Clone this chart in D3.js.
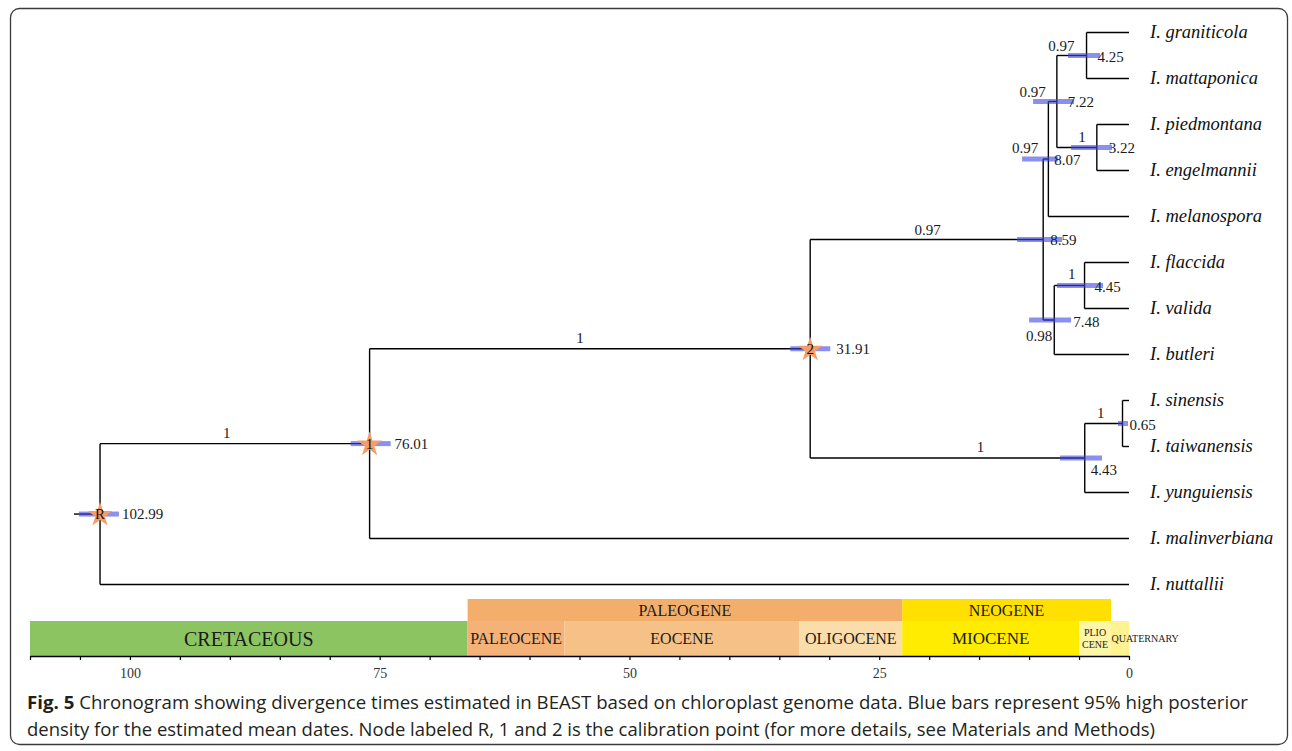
<!DOCTYPE html>
<html><head><meta charset="utf-8">
<script src="https://cdn.jsdelivr.net/npm/d3@7"></script>
<style>
  html,body{margin:0;padding:0;background:#fff}
  svg{display:block}
</style>
</head><body>
<svg id="chart" width="1292" height="751"></svg>
<script>
// ---- data ----------------------------------------------------------------
// Tips, top to bottom
const taxa = [
  "I. graniticola", "I. mattaponica", "I. piedmontana", "I. engelmannii",
  "I. melanospora", "I. flaccida", "I. valida", "I. butleri",
  "I. sinensis", "I. taiwanensis", "I. yunguiensis",
  "I. malinverbiana", "I. nuttallii"
];

// Internal nodes: children, mean age (Ma) and posterior support
const nodes = [
  { id: "n425", kids: ["I. graniticola", "I. mattaponica"], age: 4.25, support: "0.97" },
  { id: "n322", kids: ["I. piedmontana", "I. engelmannii"], age: 3.22, support: "1" },
  { id: "n722", kids: ["n425", "n322"], age: 7.22, support: "0.97" },
  { id: "n807", kids: ["n722", "I. melanospora"], age: 8.07, support: "0.97" },
  { id: "n445", kids: ["I. flaccida", "I. valida"], age: 4.45, support: "1" },
  { id: "n748", kids: ["n445", "I. butleri"], age: 7.48, support: "0.98" },
  { id: "n859", kids: ["n807", "n748"], age: 8.59, support: "0.97" },
  { id: "n065", kids: ["I. sinensis", "I. taiwanensis"], age: 0.65, support: "1" },
  { id: "n443", kids: ["n065", "I. yunguiensis"], age: 4.43, support: "1" },
  { id: "N2",   kids: ["n859", "n443"], age: 31.91, support: "1" },
  { id: "N1",   kids: ["N2", "I. malinverbiana"], age: 76.01, support: "1" },
  { id: "R",    kids: ["N1", "I. nuttallii"], age: 102.99, support: null }
];

// 95% HPD intervals (Ma), older bound first
const hpd = {
  n425: [6.1, 2.9], n322: [5.8, 1.7], n722: [9.6, 5.5], n807: [10.7, 7.1],
  n445: [7.2, 2.6], n748: [10.0, 5.8], n859: [11.2, 6.7], n065: [1.1, 0.1],
  n443: [6.9, 2.7], N2: [33.9, 29.9], N1: [77.9, 73.9], R: [105.1, 101.1]
};

// Calibrated nodes and their marks
const calibrations = { R: "R", N1: "1", N2: "2" };
const rootStemAge = 105.6;

// Geological time scale (Ma)
const epochs = [
  { name: "CRETACEOUS", from: 110, to: 66.2 },
  { name: "PALEOCENE",  from: 66.2, to: 56.5 },
  { name: "EOCENE",     from: 56.5, to: 33.0 },
  { name: "OLIGOCENE",  from: 33.0, to: 22.7 },
  { name: "MIOCENE",    from: 22.7, to: 5.0 },
  { name: "PLIO|CENE",  from: 5.0,  to: 1.8 },
  { name: "QUATERNARY", from: 1.8,  to: 0 }
];
const periods = [
  { name: "PALEOGENE", from: 66.2, to: 22.7 },
  { name: "NEOGENE",   from: 22.7, to: 1.8 }
];
const tickValues = d3.range(0, 111, 5);
const tickLabels = [0, 25, 50, 75, 100];

const captionLines = [
  ["Fig. 5", " Chronogram showing divergence times estimated in BEAST based on chloroplast genome data. Blue bars represent 95% high posterior"],
  ["", "density for the estimated mean dates. Node labeled R, 1 and 2 is the calibration point (for more details, see Materials and Methods)"]
];

// ---- styles --------------------------------------------------------------
const serif = "'Liberation Serif','Times New Roman',serif";
const epochFill = {
  CRETACEOUS: "#8dc462", PALEOCENE: "#f4b279", EOCENE: "#f6c186",
  OLIGOCENE: "#fbdcab", MIOCENE: "#ffec00", "PLIO|CENE": "#fff5a6", QUATERNARY: "#fff290"
};
const periodFill = { PALEOGENE: "#f4ae6c", NEOGENE: "#ffe000" };
const epochFont = { CRETACEOUS: 20, PALEOCENE: 16, EOCENE: 16, OLIGOCENE: 16, MIOCENE: 17, "PLIO|CENE": 10, QUATERNARY: 10 };

// label offsets for age and support text around each node
const ageNudge = {
  n425: [11, 1], n322: [12, 0], n722: [11, 0], n807: [6, 1], n445: [10, 1],
  n748: [19, 2], n859: [7, 0], n065: [7, 1], n443: [6, 12],
  N2: [26, 0], N1: [25, 0], R: [22, 0]
};
// [reference, dx, dy, anchor]; reference "node" = node x, "mid" = middle of stem branch
const supportPos = {
  n425: ["node", -12, -10, "end"], n722: ["node", -11, -10, "end"],
  n322: ["node", -11, -11, "end"], n807: ["node", -10, -11, "end"],
  n859: ["mid", 1, -10, "middle"], n445: ["node", -9, -12, "end"],
  n748: ["node", -2, 16, "end"], n065: ["node", -18, -11, "end"],
  n443: ["mid", 33, -11, "middle"], N2: ["mid", -10, -11, "middle"],
  N1: ["mid", -8, -11, "middle"]
};

// ---- scales --------------------------------------------------------------
const svg = d3.select("#chart");
const x = d3.scaleLinear().domain([110, 0]).range([30, 1129]);
const yTip = d3.scaleLinear().domain([0, taxa.length - 1]).range([32.5, 584.5]);

// frame
svg.append("rect")
  .attr("x", 10.5).attr("y", 8.5).attr("width", 1277).attr("height", 736)
  .attr("rx", 9).attr("fill", "none").attr("stroke", "#3a3a3a").attr("stroke-width", 1.3);

// ---- tree layout ---------------------------------------------------------
const byId = new Map(nodes.map(n => [n.id, n]));
const parentOf = new Map();
nodes.forEach(n => n.kids.forEach(k => parentOf.set(k, n.id)));
const pos = new Map();
taxa.forEach((t, i) => pos.set(t, { x: x(0), y: yTip(i) }));
function place(id) {
  if (pos.has(id)) return pos.get(id);
  const n = byId.get(id);
  const ys = n.kids.map(k => place(k).y);
  const p = { x: x(n.age), y: d3.mean(ys), ys };
  pos.set(id, p);
  return p;
}
place("R");

const gTree = svg.append("g").attr("stroke", "#000").attr("stroke-width", 1.4).attr("fill", "none");
// horizontal branches
const allIds = taxa.concat(nodes.map(n => n.id));
allIds.forEach(id => {
  const p = pos.get(id);
  const par = parentOf.get(id);
  const x0 = par ? pos.get(par).x : x(rootStemAge);
  gTree.append("line").attr("x1", x0).attr("x2", p.x).attr("y1", p.y).attr("y2", p.y);
});
// vertical connectors
nodes.forEach(n => {
  const p = pos.get(n.id);
  gTree.append("line").attr("x1", p.x).attr("x2", p.x)
    .attr("y1", d3.min(p.ys)).attr("y2", d3.max(p.ys));
});

// HPD bars
svg.append("g").selectAll("rect").data(nodes).join("rect")
  .attr("x", d => x(hpd[d.id][0]))
  .attr("width", d => x(hpd[d.id][1]) - x(hpd[d.id][0]))
  .attr("y", d => pos.get(d.id).y - 2.5)
  .attr("height", 5)
  .attr("fill", "rgb(62,70,228)").attr("fill-opacity", 0.6);

// calibration stars
const calNodes = nodes.filter(n => calibrations[n.id]);
const gCal = svg.append("g");
gCal.selectAll("path").data(calNodes).join("path")
  .attr("d", d3.symbol(d3.symbolStar, 190)())
  .attr("transform", d => `translate(${pos.get(d.id).x},${pos.get(d.id).y + 1})`)
  .attr("fill", "#f89c66");
gCal.selectAll("text").data(calNodes).join("text")
  .attr("x", d => pos.get(d.id).x).attr("y", d => pos.get(d.id).y)
  .attr("dy", "0.35em").attr("text-anchor", "middle")
  .attr("font-family", serif).attr("font-size", 15).attr("fill", "#111")
  .text(d => calibrations[d.id]);

// age labels
svg.append("g").selectAll("text").data(nodes).join("text")
  .attr("x", d => pos.get(d.id).x + ageNudge[d.id][0])
  .attr("y", d => pos.get(d.id).y + ageNudge[d.id][1])
  .attr("dy", "0.35em")
  .attr("font-family", serif).attr("font-size", 15).attr("fill", "#1a1a1a")
  .text(d => d.age.toFixed(2));

// support labels
svg.append("g").selectAll("text").data(nodes.filter(n => n.support)).join("text")
  .each(function (d) {
    const [ref, dx, dy, anchor] = supportPos[d.id];
    const p = pos.get(d.id);
    const par = pos.get(parentOf.get(d.id));
    const bx = ref === "mid" ? (par.x + p.x) / 2 : p.x;
    d3.select(this).attr("x", bx + dx).attr("y", p.y + dy).attr("text-anchor", anchor);
  })
  .attr("dy", "0.35em")
  .attr("font-family", serif).attr("font-size", 15).attr("fill", "#1a1a1a")
  .text(d => d.support);

// tip labels
svg.append("g").selectAll("text").data(taxa).join("text")
  .attr("x", 1150).attr("y", d => pos.get(d).y)
  .attr("dy", "0.3em")
  .attr("font-family", serif).attr("font-style", "italic").attr("font-size", 18.5)
  .attr("fill", "#111")
  .text(d => d);

// ---- geological time scale ----------------------------------------------
const rowTop = 599, rowMid = 621, rowBot = 656;
const gGeo = svg.append("g");
gGeo.selectAll("rect.period").data(periods).join("rect").attr("class", "period")
  .attr("x", d => x(d.from)).attr("width", d => x(d.to) - x(d.from))
  .attr("y", rowTop).attr("height", rowMid - rowTop)
  .attr("fill", d => periodFill[d.name]);
gGeo.selectAll("text.period").data(periods).join("text").attr("class", "period")
  .attr("x", d => (x(d.from) + x(d.to)) / 2).attr("y", (rowTop + rowMid) / 2)
  .attr("dy", "0.35em").attr("text-anchor", "middle")
  .attr("font-family", serif).attr("font-size", 16).attr("fill", "#1a1a1a")
  .text(d => d.name);
gGeo.selectAll("rect.epoch").data(epochs).join("rect").attr("class", "epoch")
  .attr("x", d => x(d.from)).attr("width", d => x(d.to) - x(d.from))
  .attr("y", rowMid).attr("height", rowBot - rowMid)
  .attr("fill", d => epochFill[d.name]);
gGeo.selectAll("text.epoch").data(epochs).join("text").attr("class", "epoch")
  .attr("font-family", serif).attr("fill", "#1a1a1a")
  .attr("font-size", d => epochFont[d.name])
  .each(function (d) {
    const t = d3.select(this);
    const cx = (x(d.from) + x(d.to)) / 2, cy = (rowMid + rowBot) / 2;
    const parts = d.name.split("|");
    if (d.name === "QUATERNARY") {
      t.attr("x", x(d.from) + 0.5).attr("y", cy).attr("dy", "0.35em").text(d.name);
    } else if (parts.length > 1) {
      t.attr("text-anchor", "middle");
      parts.forEach((s, i) => t.append("tspan").attr("x", cx).attr("y", cy + (i - 0.5) * 12)
        .attr("dy", "0.35em").text(s));
    } else {
      t.attr("x", cx).attr("y", cy).attr("dy", "0.35em").attr("text-anchor", "middle").text(d.name);
    }
  });

// time axis
const axis = d3.axisBottom(x).tickValues(tickValues).tickSize(4).tickSizeOuter(0).tickPadding(8)
  .tickFormat(d => tickLabels.includes(d) ? d : "");
const gAxis = svg.append("g").attr("transform", `translate(0,${rowBot})`).call(axis);
gAxis.select(".domain").attr("stroke", "#000").attr("stroke-width", 1.4);
gAxis.selectAll(".tick line").attr("stroke", "#000").attr("stroke-width", 1.2);
gAxis.selectAll(".tick text").attr("font-family", serif).attr("font-size", 14).attr("fill", "#333");

// ---- caption ---------------------------------------------------------------
const capFont = "'Open Sans','Noto Sans',sans-serif";
const capWidths = [1221, 1128];
const capY = [709, 736];
captionLines.forEach((line, i) => {
  const t = svg.append("text").attr("x", 27).attr("y", capY[i])
    .attr("font-family", capFont).attr("font-size", 17.5).attr("fill", "#231f20")
    .attr("textLength", capWidths[i]).attr("lengthAdjust", "spacingAndGlyphs");
  if (line[0]) t.append("tspan").attr("font-weight", "bold").text(line[0]);
  t.append("tspan").text(line[1]);
});
</script>
</body></html>
